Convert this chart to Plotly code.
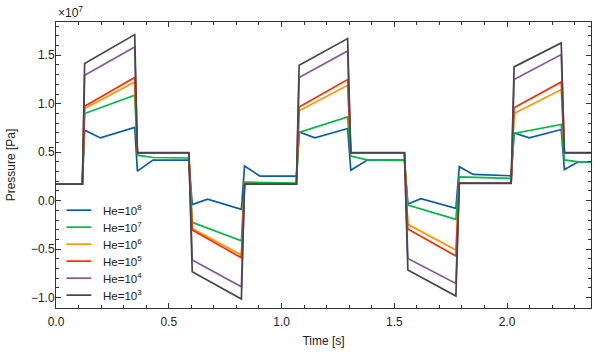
import plotly.graph_objects as go

# time knots [s]; None = no reading at that knot for that series (line joins across it)
t = [0.000, 0.117, 0.127, 0.197, 0.349, 0.361, 0.430, 0.589, 0.604, 0.672,
     0.822, 0.836, 0.905, 1.066,
     1.078, 1.148, 1.293, 1.307, 1.380, 1.545, 1.560, 1.618, 1.773, 1.788,
     1.850, 2.018,
     2.031, 2.098, 2.240, 2.254, 2.316, 2.372]

# pressure in units of 1e7 Pa
p_he8 = [0.17, 0.17, 0.727, 0.647, 0.755, 0.304, 0.418, 0.418, -0.040, 0.015,
         -0.090, 0.356, 0.253, 0.253,
         0.709, 0.647, 0.744, 0.314, 0.418, 0.418, -0.036, 0.020, -0.080, 0.350,
         0.270, 0.256,
         0.699, 0.647, 0.734, 0.321, 0.400, 0.400]
p_he7 = [0.17, 0.17, 0.899, None, 1.088, 0.469, 0.445, 0.440, -0.225, None,
         -0.414, 0.190, None, 0.180,
         0.703, None, 0.864, 0.460, 0.420, 0.415, -0.046, None, -0.194, 0.245,
         None, 0.230,
         0.693, None, 0.786, 0.420, 0.400, 0.400]
p_he6 = [0.17, 0.17, 0.950, None, 1.225, 0.490, None, 0.490, -0.287, None,
         -0.562, 0.175, None, 0.170,
         0.926, None, 1.190, 0.490, None, 0.490, -0.245, None, -0.510, 0.180,
         None, 0.180,
         0.899, None, 1.146, 0.490, None, 0.490]
p_he5 = [0.17, 0.17, 0.974, None, 1.270, 0.490, None, 0.490, -0.304, None,
         -0.590, 0.175, None, 0.170,
         0.967, None, 1.249, 0.490, None, 0.490, -0.294, None, -0.572, 0.180,
         None, 0.180,
         0.957, None, 1.225, 0.490, None, 0.490]
p_he4 = [0.17, 0.17, 1.294, None, 1.586, 0.490, None, 0.490, -0.613, None,
         -0.889, 0.170, None, 0.170,
         1.270, None, 1.544, 0.490, None, 0.490, -0.596, None, -0.854, 0.180,
         None, 0.180,
         1.249, None, 1.507, 0.490, None, 0.490]
p_he3 = [0.17, 0.17, 1.414, None, 1.713, 0.495, None, 0.495, -0.734, None,
         -1.015, 0.170, None, 0.170,
         1.397, None, 1.672, 0.495, None, 0.495, -0.717, None, -0.985, 0.180,
         None, 0.177,
         1.380, None, 1.627, 0.495, None, 0.495]

series = [
    ("He=10<sup>8</sup>", p_he8, "#0C5DA5"),
    ("He=10<sup>7</sup>", p_he7, "#00B945"),
    ("He=10<sup>6</sup>", p_he6, "#FF9500"),
    ("He=10<sup>5</sup>", p_he5, "#FF2C00"),
    ("He=10<sup>4</sup>", p_he4, "#845B97"),
    ("He=10<sup>3</sup>", p_he3, "#474747"),
]

AXIS = "#333333"
TEXT = "#222222"
FONT = "Liberation Sans, Arial, sans-serif"

fig = go.Figure()
for name, vals, color in series:
    fig.add_trace(go.Scatter(
        x=t, y=vals, name=name, mode="lines", connectgaps=True,
        line=dict(color=color, width=1.7), showlegend=False,
    ))

# hand-placed legend (plotly's own legend rows are too tall for 6 entries here)
leg_x0, leg_x1, leg_tx = 0.0195, 0.066, 0.085
leg_y0, leg_dy = 0.342, 0.0594
for i, (name, vals, color) in enumerate(series):
    y = leg_y0 - i * leg_dy
    fig.add_shape(type="line", xref="paper", yref="paper",
                  x0=leg_x0, x1=leg_x1, y0=y, y1=y,
                  line=dict(color=color, width=1.7))
    fig.add_annotation(text=name, xref="paper", yref="paper", x=leg_tx, y=y,
                       xanchor="left", yanchor="middle", showarrow=False,
                       font=dict(size=11.5, color=TEXT))

axis_common = dict(
    showline=True, linecolor=AXIS, linewidth=1, mirror="allticks",
    ticks="inside", ticklen=5, tickwidth=1, tickcolor=AXIS,
    showgrid=False, zeroline=False, automargin=False,
    tickfont=dict(size=12, color=TEXT),
)

fig.update_xaxes(
    range=[0, 2.372], dtick=0.5, tickformat=".1f", ticklabelstandoff=3,
    minor=dict(ticks="inside", dtick=0.1, ticklen=3, tickcolor=AXIS),
    title=dict(text="Time [s]", font=dict(size=12, color=TEXT), standoff=8),
    **axis_common,
)
fig.update_yaxes(
    range=[-1.108, 1.843], dtick=0.5, tickformat=".1f", ticklabelstandoff=-2,
    minor=dict(ticks="inside", dtick=0.1, ticklen=3, tickcolor=AXIS),
    title=dict(text="Pressure [Pa]", font=dict(size=12, color=TEXT), standoff=12),
    **axis_common,
)

fig.add_annotation(
    text="\u00d710<sup>7</sup>", xref="paper", yref="paper", x=0.0, y=1.0,
    xanchor="left", yanchor="bottom", showarrow=False, yshift=0,
    font=dict(size=12, color=TEXT),
)

fig.update_layout(
    width=598, height=354,
    margin=dict(l=56, r=7, t=22, b=46),
    plot_bgcolor="white", paper_bgcolor="white",
    font=dict(family=FONT, size=12, color=TEXT),
)

fig.write_html("out.html", config={"displayModeBar": False},
               post_script="document.body.style.margin='0';")
